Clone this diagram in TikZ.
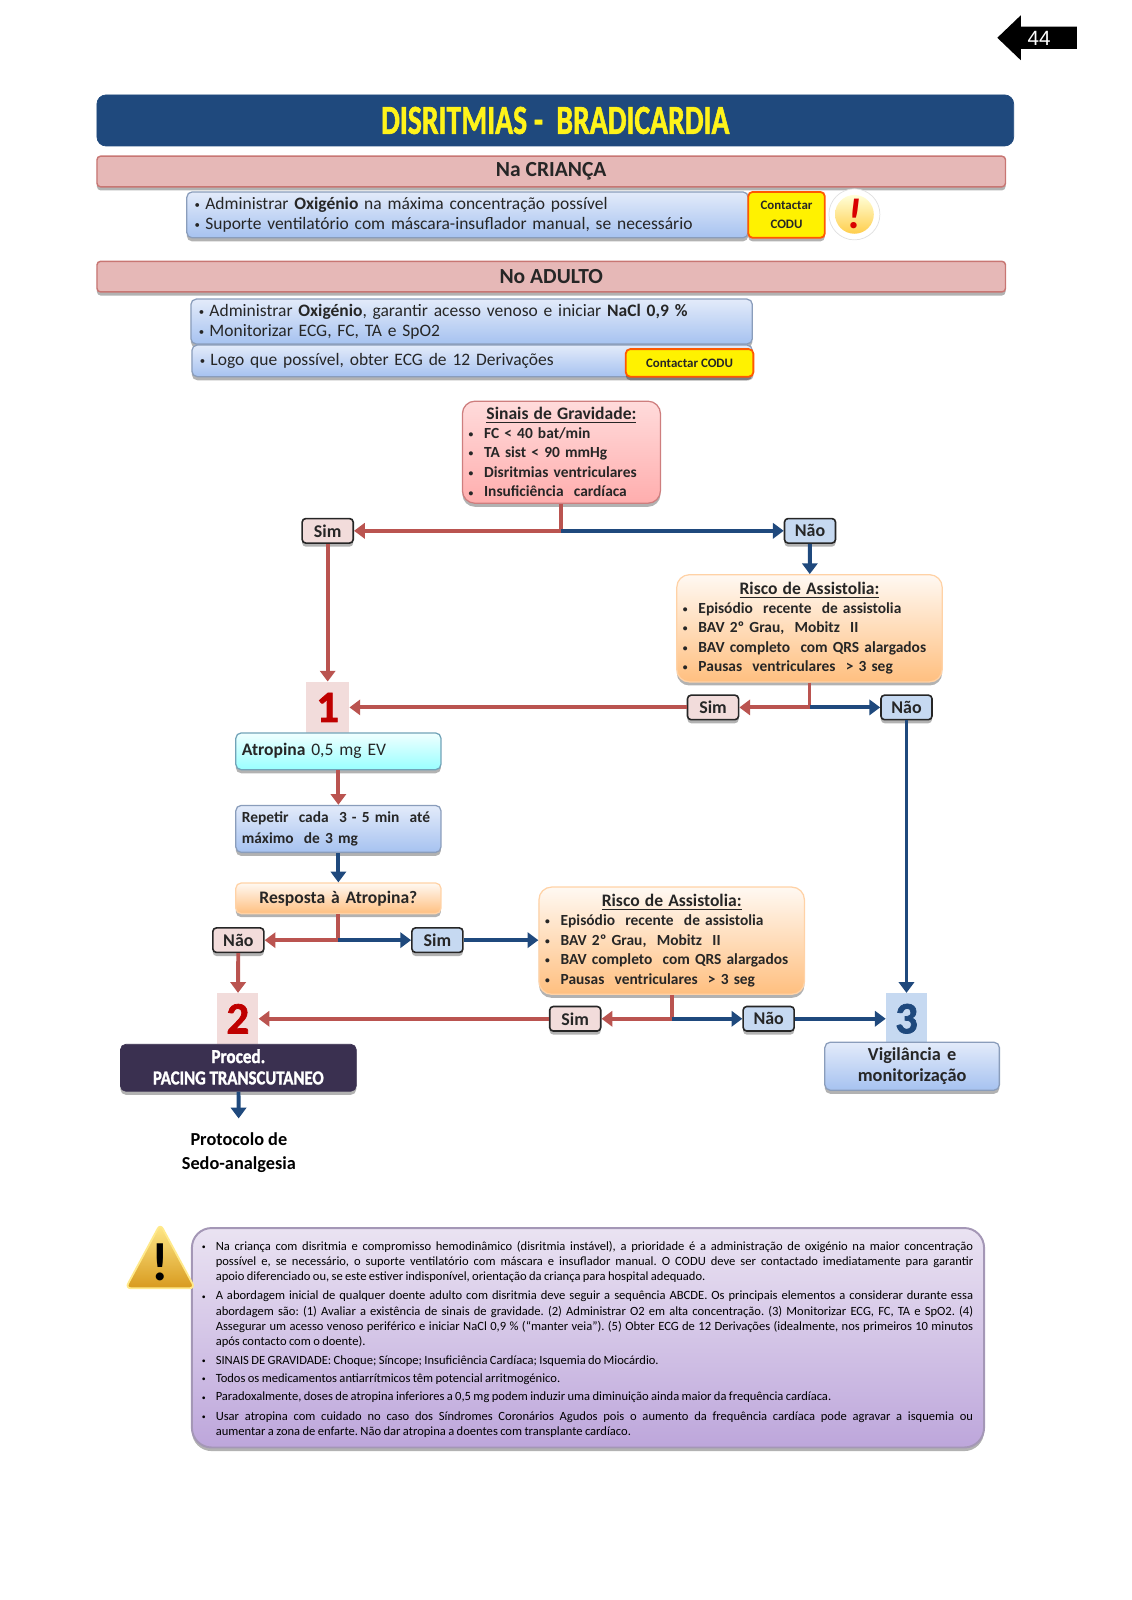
\documentclass[tikz,border=0pt]{standalone}
\usepackage{fontspec}
\setmainfont{Carlito}
\newfontfamily\pagefont{Liberation Sans}
\newfontfamily\heavyfont[BoldFeatures={FakeBold=1.6}]{Carlito}
\usetikzlibrary{arrows.meta,shadows}
\definecolor{navy}{HTML}{1F497D}
\definecolor{brick}{HTML}{BA5450}
\definecolor{rosebar}{HTML}{E6B8B7}
\definecolor{palerose}{HTML}{F2DCDB}
\definecolor{paleblue}{HTML}{C6D9F1}
\definecolor{lineblue}{HTML}{8A9DBB}
\definecolor{ink}{HTML}{262626}
\definecolor{bluetop}{HTML}{E3EBFA}
\definecolor{bluebottom}{HTML}{A6C2F0}
\definecolor{purpletop}{HTML}{EAE3F2}
\definecolor{purplebottom}{HTML}{BDA6DB}
\definecolor{goldtop}{HTML}{FFE98A}
\definecolor{goldbottom}{HTML}{D89A1E}
\definecolor{dusk}{HTML}{3A3050}
\tikzset{
  cast/.style={drop shadow={shadow xshift=0pt,shadow yshift=-2pt,opacity=.3,fill=black}},
  sz/.style 2 args={text width=(#1-12)*0.02cm,minimum height=#2*0.02cm,inner xsep=6*0.02cm,inner ysep=0pt,rounded corners=3pt},
  bluebox/.style={cast,draw=lineblue,line width=.7pt,top color=bluetop,bottom color=bluebottom,text=ink},
  cyanbox/.style={cast,draw=cyan!40!gray,line width=.7pt,top color=cyan!6!white,bottom color=cyan!40!white,text=ink},
  orangebox/.style={cast,draw=orange!35!white,line width=.7pt,top color=orange!5!white,bottom color=orange!50!white,text=ink},
  redbox/.style={cast,draw=red!45!gray!70,line width=.7pt,top color=red!14!white,bottom color=red!32!white,text=ink},
  purplebox/.style={cast,draw=purplebottom!60!gray,line width=1.1pt,top color=purpletop,bottom color=purplebottom,text=ink},
  bar/.style={cast,draw=brick!80!white,line width=.8pt,fill=rosebar,rounded corners=2pt,minimum height=30*0.02cm,minimum width=890*0.02cm,font=\fontsize{12}{14}\selectfont\bfseries,text=ink},
  codu/.style={cast,draw=orange!70!red,line width=1pt,fill=yellow,rounded corners=2.5pt,inner sep=0pt,align=center,font=\fontsize{7.2}{10.3}\selectfont\bfseries,text=ink},
  choice/.style={cast,draw=ink,line width=.9pt,rounded corners=2pt,minimum width=50*0.02cm,minimum height=24*0.02cm,inner sep=0pt,font=\fontsize{10}{12}\selectfont\bfseries,text=ink},
  simbox/.style={choice,fill=palerose},
  naobox/.style={choice,fill=paleblue},
  numbox/.style={minimum width=42*0.02cm,minimum height=50*0.02cm,inner sep=0pt,font=\fontsize{25}{26}\selectfont\heavyfont\bfseries},
  redline/.style={draw=brick,line width=2.2pt},
  blueline/.style={draw=navy,line width=2.2pt},
  redarrow/.style={redline,-{Triangle[length=6pt,width=8.5pt]}},
  bluearrow/.style={blueline,-{Triangle[length=6pt,width=8.5pt]}},
  lista/.style={font=\fontsize{8.6}{10.9}\selectfont\color{ink},align=left,rounded corners=7pt},
  corpo/.style={font=\fontsize{9.75}{10.9}\selectfont\color{ink},align=left},
  nota/.style={font=\fontsize{7}{8.45}\selectfont\color{black},text width=742*0.02cm,inner sep=0pt,align=justify},
}
\newcommand{\blt}{\raisebox{.12ex}{\scalebox{.62}{•}}}
\newcommand{\pto}{\blt\hspace{.7em}}
\newcommand{\vinh}{\hspace{1pt}\blt\hspace{.3em}}
\newcommand{\marca}{\frenchspacing\spaceskip=.19em plus .5em minus .09em\relax\leavevmode\llap{\blt\hspace{.8em}}}
\begin{document}
\begin{tikzpicture}[x=0.02cm,y=-0.02cm]
\useasboundingbox (0,0) rectangle (1108,1567.4);
\fill (977,37) -- (1000,15) -- (1000,26) -- (1055,26) -- (1055,48) -- (1000,48) -- (1000,59) -- cycle;
\node[text=white,font=\pagefont\fontsize{11.5}{12}\selectfont] (pagina) at (1018,38) {44};
\node[draw=navy,fill=navy,rounded corners=5pt,minimum width=898*0.02cm,minimum height=50*0.02cm,inner sep=0pt,text=yellow!90!white,font=\fontsize{23}{24}\selectfont\heavyfont\bfseries] (titulo) at (544,118) {\scalebox{.72}[1]{DISRITMIAS -\ \ BRADICARDIA}};
\node[bar] (crianca) at (540,168) {Na CRIANÇA};
\node[bar] (adulto) at (540,271) {No ADULTO};
\node[bluebox,sz={550}{45},corpo] (oxi1) at (458,210.5) {\vinh Administrar \textbf{Oxigénio} na máxima concentração possível\\\vinh Suporte ventilatório com máscara-insuflador manual, se necessário};
\node[codu,minimum width=75*0.02cm,minimum height=45*0.02cm] (codu1) at (770.5,210.5) {Contactar\\CODU};
\node[circle,draw=black!12,fill=white,minimum size=50*0.02cm,inner sep=0pt] (alertaout) at (837,210) {};
\node[circle,top color=yellow!15!white,bottom color=orange!55!yellow!70,minimum size=38*0.02cm,inner sep=0pt,text=red!85!black,font=\fontsize{24}{25}\selectfont\bfseries\itshape] (alerta) at (837,210) {!};
\node[bluebox,sz={550}{44},corpo] (oxi2) at (462,315) {\vinh Administrar \textbf{Oxigénio}, garantir acesso venoso e iniciar \textbf{NaCl 0,9 \%}\\\vinh Monitorizar ECG, FC, TA e SpO2};
\node[bluebox,sz={549}{31},corpo] (ecg) at (462.5,353.5) {\vinh Logo que possível, obter ECG de 12 Derivações};
\node[codu,minimum width=125*0.02cm,minimum height=27*0.02cm] (codu2) at (675.5,355.5) {Contactar CODU};
\node[redbox,sz={194}{100},lista] (sinais) at (550,443) {\centerline{\fontsize{9.8}{10.9}\selectfont\bfseries\underline{Sinais de Gravidade:}}\\[-.5pt]\textbf{\pto FC < 40 bat/min}\\\textbf{\pto TA sist < 90 mmHg}\\\textbf{\pto Disritmias ventriculares}\\\textbf{\pto Insuficiência \ cardíaca}};
\coordinate (j1) at (550,520);
\node[simbox] (sim1) at (321,520) {Sim};
\node[naobox] (nao1) at (793.5,520) {Não};
\node[orangebox,sz={260}{105},lista] (risco1) at (793,615.5) {\centerline{\fontsize{9.8}{10.9}\selectfont\bfseries\underline{Risco de Assistolia:}}\\[-.5pt]\textbf{\pto Episódio \ recente \ de assistolia}\\\textbf{\pto BAV 2º Grau, \ Mobitz \ II}\\\textbf{\pto BAV completo \ com QRS alargados}\\\textbf{\pto Pausas \ ventriculares \ > 3 seg}};
\coordinate (j2) at (793,693);
\node[simbox] (sim2) at (698.5,693) {Sim};
\node[naobox] (nao2) at (888,693) {Não};
\node[numbox,fill=palerose,text=red!75!black] (um) at (321,693) {1};
\node[cyanbox,sz={201}{36},font=\fontsize{9.8}{12}\selectfont\color{ink}] (atropina) at (331.5,736) {\textbf{Atropina} 0,5 mg EV};
\node[bluebox,sz={201}{46},font=\fontsize{8.6}{11.6}\selectfont\bfseries\color{ink},align=left] (repetir) at (331.5,812) {Repetir \ cada \ 3 - 5 min \ até\\máximo \ de 3 mg};
\node[orangebox,sz={201}{30},align=center,font=\fontsize{9.8}{12}\selectfont\bfseries\color{ink}] (resposta) at (331.5,880) {Resposta à Atropina?};
\coordinate (j3) at (331.5,921);
\node[simbox] (nao3) at (233.5,921) {Não};
\node[naobox] (sim3) at (428.5,921) {Sim};
\node[orangebox,sz={260}{105},lista] (risco2) at (658,921.5) {\centerline{\fontsize{9.8}{10.9}\selectfont\bfseries\underline{Risco de Assistolia:}}\\[-.5pt]\textbf{\pto Episódio \ recente \ de assistolia}\\\textbf{\pto BAV 2º Grau, \ Mobitz \ II}\\\textbf{\pto BAV completo \ com QRS alargados}\\\textbf{\pto Pausas \ ventriculares \ > 3 seg}};
\coordinate (j4) at (658,998);
\node[simbox] (sim4) at (563.5,998) {Sim};
\node[naobox] (nao4) at (753,998) {Não};
\node[numbox,minimum width=40*0.02cm,fill=palerose,text=red!75!black] (dois) at (233,998) {2};
\node[numbox,minimum width=40*0.02cm,fill=paleblue,text=navy] (tres) at (888,998) {3};
\node[cast,draw=dusk,fill=dusk,rounded corners=3pt,minimum width=231*0.02cm,minimum height=46*0.02cm,inner sep=0pt,align=center,text=white,font=\fontsize{11}{11.9}\selectfont\heavyfont\bfseries] (proced) at (233.5,1046) {\raisebox{1.1pt}{\scalebox{.87}[1]{Proced.}}\\\raisebox{1.1pt}{\scalebox{.85}[1]{PACING TRANSCUTANEO}}};
\node[bluebox,sz={171}{47},align=center,font=\fontsize{10.2}{11.4}\selectfont\bfseries\color{ink}] (vigilancia) at (893.5,1044.5) {Vigilância e\\monitorização};
\node[minimum height=66*0.02cm,inner sep=0pt,align=center,font=\fontsize{10.2}{13}\selectfont\bfseries,text=black] (protocolo) at (234,1129) {Protocolo de\\Sedo-analgesia};
\draw[redline] (sinais) -- (j1);
\draw[redarrow] (j1) -- (sim1);
\draw[bluearrow] (j1) -- (nao1);
\draw[bluearrow] (nao1) -- (risco1);
\draw[redarrow] (sim1) -- (um);
\draw[redline] (risco1) -- (j2);
\draw[redarrow] (j2) -- (sim2);
\draw[bluearrow] (j2) -- (nao2);
\draw[redarrow] (sim2) -- (um);
\draw[bluearrow] (nao2) -- (tres);
\draw[redarrow] (atropina) -- (repetir);
\draw[bluearrow] (repetir) -- (resposta);
\draw[redline] (resposta) -- (j3);
\draw[redarrow] (j3) -- (nao3);
\draw[bluearrow] (j3) -- (sim3);
\draw[bluearrow] (sim3) -- (risco2.west |- sim3);
\draw[redarrow] (nao3) -- (dois);
\draw[redline] (risco2) -- (j4);
\draw[redarrow] (j4) -- (sim4);
\draw[bluearrow] (j4) -- (nao4);
\draw[redarrow] (sim4) -- (dois);
\draw[bluearrow] (nao4) -- (tres);
\draw[bluearrow] (proced) -- (protocolo);
\node[purplebox,minimum width=776*0.02cm,minimum height=215*0.02cm,rounded corners=11pt,inner sep=0pt] (caixa) at (576,1310.5) {};
\draw[line width=1pt,draw=goldtop,rounded corners=3pt,top color=goldtop,bottom color=goldbottom] (157,1199) -- (191,1262) -- (123,1262) -- cycle;
\node[inner sep=0pt,text=black,font=\fontsize{30}{30}\selectfont\bfseries] (exclama) at (157,1237) {!};
\node[nota,anchor=north west] (p1) at (211,1215.5) {\marca Na criança com disritmia e compromisso hemodinâmico (disritmia instável), a prioridade é a administração de oxigénio na maior concentração\linebreak possível e, se necessário, o suporte ventilatório com máscara e insuflador manual. O CODU deve ser contactado imediatamente para garantir\linebreak \hbox{apoio diferenciado ou, se este estiver indisponível, orientação da criança para hospital adequado.}\hfill\null};
\node[nota,anchor=north west] (p2) at (211,1264.5) {\marca A abordagem inicial de qualquer doente adulto com disritmia deve seguir a sequência ABCDE. Os principais elementos a considerar durante essa\linebreak abordagem são: (1) Avaliar a existência de sinais de gravidade. (2) Administrar O2 em alta concentração. (3) Monitorizar ECG, FC, TA e SpO2. (4)\linebreak Assegurar um acesso venoso periférico e iniciar NaCl 0,9 \% (“manter veia”). (5) Obter ECG de 12 Derivações (idealmente, nos primeiros 10 minutos\linebreak \hbox{após contacto com o doente).}\hfill\null};
\node[nota,anchor=north west] (p3) at (211,1327.5) {\marca SINAIS DE GRAVIDADE: Choque; Síncope; Insuficiência Cardíaca; Isquemia do Miocárdio.};
\node[nota,anchor=north west] (p4) at (211,1345.5) {\marca Todos os medicamentos antiarrítmicos têm potencial arritmogénico.};
\node[nota,anchor=north west] (p5) at (211,1363.5) {\marca Paradoxalmente, doses de atropina inferiores a 0,5 mg podem induzir uma diminuição ainda maior da frequência cardíaca.};
\node[nota,anchor=north west] (p6) at (211,1382.5) {\marca Usar atropina com cuidado no caso dos Síndromes Coronários Agudos pois o aumento da frequência cardíaca pode agravar a isquemia ou\linebreak \hbox{aumentar a zona de enfarte. Não dar atropina a doentes com transplante cardíaco.}\hfill\null};
\end{tikzpicture}
\end{document}
